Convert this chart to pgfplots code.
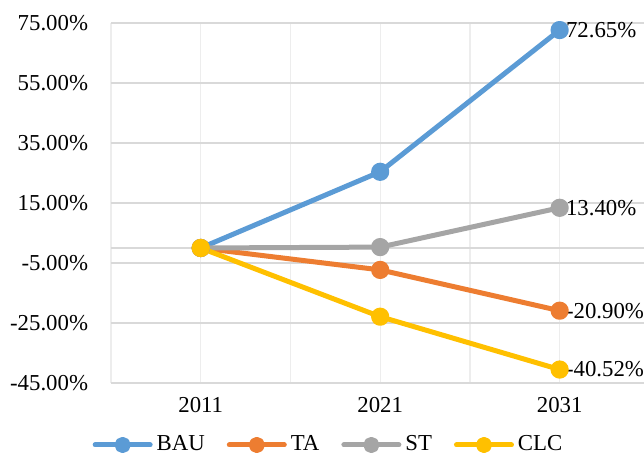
\documentclass[border=0pt]{standalone}
\usepackage{fontspec}
\setmainfont{Liberation Serif}
\usepackage{pgfplots}
\pgfplotsset{compat=1.18}

\definecolor{bau}{HTML}{5B9BD5}
\definecolor{ta}{HTML}{ED7D31}
\definecolor{st}{HTML}{A5A5A5}
\definecolor{clc}{HTML}{FFC000}
\definecolor{hgrid}{HTML}{D9D9D9}
\definecolor{vgrid}{HTML}{EDEDED}

\begin{document}
\fontsize{11.4}{13.5}\selectfont
\begin{tikzpicture}
\begin{axis}[
  at={(0,0)}, anchor=south west,
  scale only axis, width=266.5pt, height=180pt,
  xmin=-0.5, xmax=2.47, ymin=-45, ymax=75,
  clip=false,
  axis line style={draw=none},
  tick style={draw=none},
  major tick length=0pt, minor tick length=0pt,
  xtick={0,1,2}, xticklabels={2011,2021,2031},
  minor xtick={-0.5,0.5,1.5},
  ytick={-45,-25,...,75},
  extra y ticks={0}, extra y tick labels={},
  extra y tick style={ymajorgrids=true},
  xmajorgrids, xminorgrids, ymajorgrids,
  x grid style={vgrid, line width=0.6pt},
  y grid style={hgrid, line width=0.9pt},
  /pgf/number format/assume math mode=true,
  yticklabel={\pgfmathprintnumber[fixed,fixed zerofill,precision=2]{\tick}\%},
  yticklabel style={xshift=-7.5pt},
  xticklabel style={yshift=-3pt},
  legend columns=4,
  legend style={draw=none, fill=none,
    at={(109.25pt,-31pt)}, anchor=center,
    nodes={inner xsep=2pt},
    /tikz/every even column/.append style={column sep=9pt}},
  legend image code/.code={\draw[mark repeat=2, mark phase=2, #1, mark size=2.8pt]
     plot coordinates {(0pt,0pt) (13.75pt,0pt) (27.5pt,0pt)};},
  every axis plot/.append style={line width=2.5pt, line cap=round, line join=round,
     mark=*, mark size=3.3pt, mark options={line width=0.4pt}},
]
\addplot[bau, mark options={draw=bau, fill=bau}] coordinates {(0,0) (1,25.4) (2,72.65)};
\addlegendentry{BAU}
\addplot[ta, mark options={draw=ta, fill=ta}] coordinates {(0,0) (1,-7.3) (2,-20.90)};
\addlegendentry{TA}
\addplot[st, mark options={draw=st, fill=st}] coordinates {(0,0) (1,0.3) (2,13.40)};
\addlegendentry{ST}
\addplot[clc, mark options={draw=clc, fill=clc}] coordinates {(0,0) (1,-22.9) (2,-40.52)};
\addlegendentry{CLC}

% value labels at the 2031 points
\node[anchor=west, xshift=-0.8pt] at (axis cs:2,72.65) {72.65\%};
\node[anchor=west, xshift=-0.8pt] at (axis cs:2,13.40) {13.40\%};
\node[anchor=west, xshift=-0.8pt] at (axis cs:2,-20.90) {-20.90\%};
\node[anchor=west, xshift=-0.8pt] at (axis cs:2,-40.52) {-40.52\%};
\end{axis}
\pgfresetboundingbox
\path (-55.5pt,-37.5pt) rectangle (266.5pt,191.5pt);
\end{tikzpicture}
\end{document}
